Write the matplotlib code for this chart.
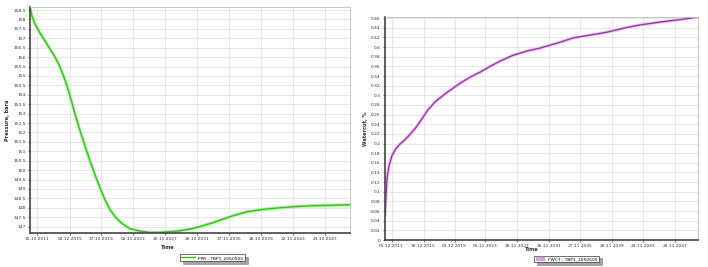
import numpy as np
import matplotlib
matplotlib.use("Agg")
import matplotlib.pyplot as plt

# left chart: pressure (bara) vs decimal year
press_years = [2010.955, 2011.205, 2011.58, 2012.205, 2012.83, 2013.455, 2014.08, 2014.705,
               2015.33, 2015.955, 2016.58, 2017.205, 2017.83, 2018.455, 2019.08, 2019.705,
               2020.33, 2020.955, 2021.58, 2022.205, 2022.83, 2023.455, 2024.705, 2025.955,
               2027.205, 2028.455, 2029.705, 2030.955, 2032.205, 2033.83, 2035.955, 2038.08,
               2040.205, 2042.205, 2044.33, 2046.33, 2048.455, 2050.955]
press_vals = [158.66, 158.18, 157.76, 157.28, 156.86, 156.43, 156.01, 155.48,
              154.79, 153.94, 152.99, 152.09, 151.29, 150.49, 149.75, 149.06,
              148.43, 147.90, 147.53, 147.26, 147.05, 146.89, 146.76, 146.69,
              146.69, 146.73, 146.78, 146.87, 147.00, 147.21, 147.53, 147.79,
              147.92, 148.00, 148.07, 148.11, 148.13, 148.16]
press_ticks = [147 + 0.5 * i for i in range(24)]
press_dates = ["30.10.2011", "02.12.2015", "17.10.2019", "02.11.2023", "20.11.2027",
               "26.10.2031", "17.11.2035", "28.10.2039", "22.11.2043", "23.10.2047"]

# right chart: watercut vs decimal year
wct_years = [2011.09, 2011.22, 2011.34, 2011.60, 2011.98, 2012.49, 2012.99, 2013.63,
             2014.26, 2014.90, 2015.53, 2016.42, 2017.44, 2018.96, 2020.61, 2021.88,
             2023.15, 2024.42, 2025.69, 2027.34, 2029.12, 2030.77, 2033.31, 2034.96,
             2037.12, 2039.28, 2041.57, 2043.47, 2046.01, 2048.55, 2050.84]
wct_vals = [0.050, 0.092, 0.127, 0.154, 0.175, 0.190, 0.199, 0.208,
            0.219, 0.231, 0.245, 0.267, 0.2865, 0.306, 0.325, 0.3375,
            0.348, 0.360, 0.371, 0.383, 0.392, 0.398, 0.410, 0.419,
            0.425, 0.431, 0.440, 0.446, 0.452, 0.457, 0.4625]
wct_ticks = [0.02 * i for i in range(24)]
wct_dates = ["01.12.2011", "30.12.2015", "01.12.2019", "01.11.2023", "28.11.2027",
             "26.11.2031", "27.11.2035", "26.11.2039", "22.11.2043", "29.11.2047"]


def date_to_year(s):
    d, m, y = [int(p) for p in s.split(".")]
    return y + (m - 1) / 12 + (d - 1) / 365


def fmt_tick(v):
    return ("%.2f" % v).rstrip("0").rstrip(".")


def style_axes(ax, xlim, ylim, dates, yticks, ylabel):
    ax.set_xlim(*xlim)
    ax.set_ylim(*ylim)
    ax.set_xticks([date_to_year(d) for d in dates])
    ax.set_xticklabels(dates, fontsize=3.2, color="#333333")
    ax.set_yticks(yticks)
    ax.set_yticklabels([fmt_tick(v) for v in yticks], fontsize=3.2, color="#333333")
    ax.tick_params(length=1.5, width=0.4, pad=1.5)
    ax.grid(True, color="#dddddd", linewidth=0.5)
    ax.set_axisbelow(True)
    for side in ["top", "right"]:
        ax.spines[side].set_color("#bbbbbb")
        ax.spines[side].set_linewidth(0.6)
    for side in ["left", "bottom"]:
        ax.spines[side].set_color("#444444")
        ax.spines[side].set_linewidth(1.2)
    ax.set_ylabel(ylabel, fontsize=3.6, color="#333333", fontweight="bold", labelpad=2)
    ax.set_xlabel("Time", fontsize=3.6, color="#333333", fontweight="bold", labelpad=2)


fig = plt.figure(figsize=(7.08, 2.67), dpi=100)
fig.patch.set_facecolor("white")

ax1 = fig.add_axes([30 / 708, 34 / 267, 320 / 708, 226 / 267])
ax1.plot(press_years, press_vals, color="#b4f2a8", linewidth=2.4, solid_capstyle="round")
ax1.plot(press_years, press_vals, color="#33c41c", linewidth=1.0, label="FPR : TBP1_2050505")
style_axes(ax1, (2010.955, 2050.955), (146.66, 158.66), press_dates, press_ticks, "Pressure, bara")
ax1.xaxis.set_label_coords(0.43, -0.055)
leg1 = ax1.legend(loc="upper center", bbox_to_anchor=(0.57, -0.085), fontsize=3.2,
                  frameon=True, fancybox=False, shadow=True, handlelength=3,
                  borderpad=0.3, edgecolor="#333333")
leg1.get_frame().set_linewidth(0.5)

ax2 = fig.add_axes([385 / 708, 27 / 267, 313 / 708, 223 / 267])
ax2.plot(wct_years, wct_vals, color="#f2c4f2", linewidth=2.4, solid_capstyle="round")
ax2.plot(wct_years, wct_vals, color="#943aa6", linewidth=1.0)
ax2.fill_between([], [], color="#d9a0e0", label="FWCT : TBP1_2050505")
style_axes(ax2, (2011.09, 2050.84), (0, 0.4625), wct_dates, wct_ticks, "Watercut, %")
ax2.xaxis.set_label_coords(0.47, -0.03)
leg2 = ax2.legend(loc="upper center", bbox_to_anchor=(0.58, -0.06), fontsize=3.2,
                  frameon=True, fancybox=False, shadow=True, handlelength=2,
                  borderpad=0.3, edgecolor="#333333")
leg2.get_frame().set_linewidth(0.5)

fig.savefig("out.png", dpi=100)
